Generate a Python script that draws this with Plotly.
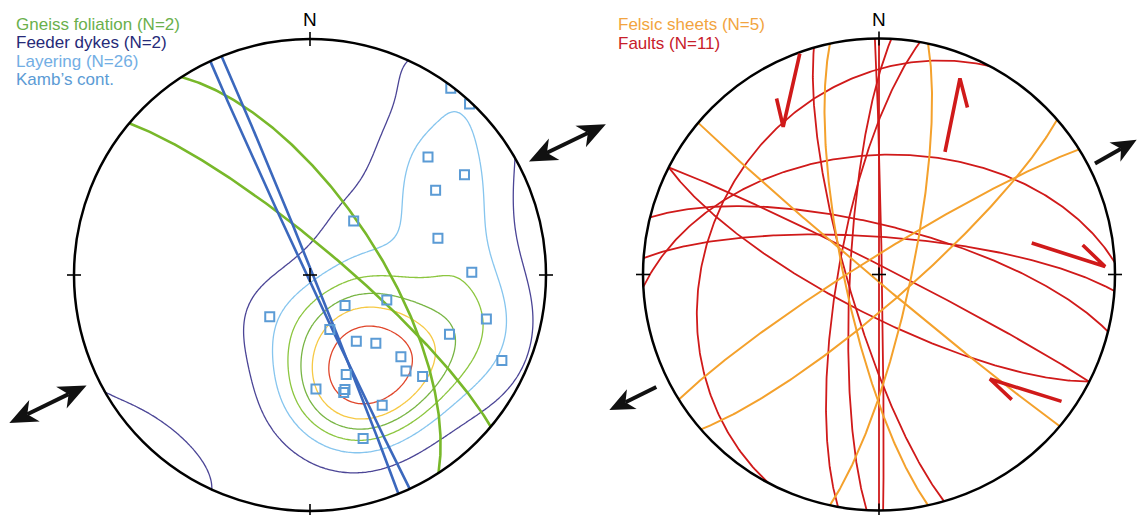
import numpy as np
import plotly.graph_objects as go

# ---------------- structural data ----------------
# Left net: gneiss foliation planes, feeder dykes, poles to layering
gneiss_strike = [327, 310]
gneiss_dip = [66, 80]

dyke_strike = [155, 338]
dyke_dip = [89, 89]

layering_pole_trend = [37, 43, 45, 57, 56, 39, 74, 89, 224, 131, 108, 104, 113,
                       160, 145, 136, 132, 114, 160, 135, 132, 177, 163, 164, 151, 162]
layering_pole_plunge = [1, 1, 30, 23, 36, 66, 43, 32, 70, 74, 62, 24, 36,
                        70, 62, 57, 47, 12, 53, 42, 36, 50, 48, 47, 37, 28]

# Kamb contour levels (sigma units) and their colours
kamb_sigma = 2.0
kamb_levels = [0.9, 2.4, 3.6, 4.8, 5.9, 7.4]
kamb_colors = ["#4b4596", "#86c5ee", "#8cc63f", "#78b544", "#f6c945", "#e0462b"]

# Right net: felsic sheets and faults
felsic_strike = [130, 168, 12, 49, 238]
felsic_dip = [88, 78, 79, 80, 84]

fault_strike = [0, 183, 190, 164, 208, 117, 297, 284, 274, 267, 359]
fault_dip = [90, 80, 76, 79, 28, 76, 87, 73, 77, 48, 89]

# ---------------- page geometry ----------------
W, H = 1137, 515
R = 236.0                      # net radius in pixels
LC = (310.0, 275.0)            # left net centre (px)
RC = (879.0, 274.5)            # right net centre (px)
PX = 1.0 / R                   # one pixel in net units

# ---------------- projection helpers (lower hemisphere, equal area) ----------------
def project(trend, plunge):
    t = np.radians(np.asarray(trend, float))
    p = np.radians(np.asarray(plunge, float))
    r = np.sqrt(2) * np.sin((np.pi / 2 - p) / 2)
    return r * np.sin(t), r * np.cos(t)


def great_circle(strike, dip, n=241):
    s, d = np.radians(strike), np.radians(dip)
    a = np.linspace(0, np.pi, n)
    sv = np.array([np.sin(s), np.cos(s), 0.0])
    dv = np.array([np.cos(s) * np.cos(d), -np.sin(s) * np.cos(d), -np.sin(d)])
    v = np.outer(np.cos(a), sv) + np.outer(np.sin(a), dv)
    plunge = np.degrees(np.arcsin(np.clip(-v[:, 2], -1, 1)))
    trend = np.degrees(np.arctan2(v[:, 0], v[:, 1]))
    return project(trend, plunge)


def unit_vectors(trend, plunge):
    t = np.radians(trend)
    p = np.radians(plunge)
    return np.stack([np.cos(p) * np.sin(t), np.cos(p) * np.cos(t), -np.sin(p)], axis=-1)


def kamb_density(gx, gy, trend, plunge, sigma=3.0):
    """Exponential Kamb density (in sigma units) on a grid of net coordinates."""
    X, Y = np.meshgrid(gx, gy)
    r = np.clip(np.hypot(X, Y), 0, np.sqrt(2))
    gp = 90 - 2 * np.degrees(np.arcsin(r / np.sqrt(2)))
    gt = np.degrees(np.arctan2(X, Y))
    g = unit_vectors(gt, gp)
    p = unit_vectors(np.asarray(trend, float), np.asarray(plunge, float))
    cosd = np.abs(g @ p.T)
    n = len(trend)
    f = 2 * (1 + n / sigma ** 2)
    units = np.sqrt(n * (f / 2 - 1) / f ** 2)
    dens = (np.exp(f * (cosd - 1)).sum(axis=-1) - 0.5) / units
    return np.clip(dens, 0, None)


fig = go.Figure()

# ---------------- left net ----------------
gx = np.linspace(-1.4, 1.4, 281)
gy = np.linspace(-1.4, 1.4, 281)
dens = kamb_density(gx, gy, layering_pole_trend, layering_pole_plunge, kamb_sigma)
for lv, col in zip(kamb_levels, kamb_colors):
    fig.add_trace(go.Contour(
        x=gx, y=gy, z=dens, xaxis="x", yaxis="y",
        autocontour=False,
        contours=dict(start=lv, end=lv, size=1, coloring="none", showlabels=False),
        line=dict(color=col, width=1.3, smoothing=1),
        showscale=False, hoverinfo="skip"))

for s, d in zip(gneiss_strike, gneiss_dip):
    x, y = great_circle(s, d)
    fig.add_trace(go.Scatter(x=x, y=y, mode="lines", xaxis="x", yaxis="y",
                             line=dict(color="#78b82a", width=2.6), hoverinfo="skip"))

for s, d in zip(dyke_strike, dyke_dip):
    x, y = great_circle(s, d)
    fig.add_trace(go.Scatter(x=x, y=y, mode="lines", xaxis="x", yaxis="y",
                             line=dict(color="#3b68bd", width=2.6), hoverinfo="skip"))

px_, py_ = project(layering_pole_trend, layering_pole_plunge)
fig.add_trace(go.Scatter(x=px_, y=py_, mode="markers", xaxis="x", yaxis="y",
                         marker=dict(symbol="square-open", size=9, color="#5b9bd5",
                                     line=dict(width=2, color="#5b9bd5")),
                         hoverinfo="skip"))

# ---------------- right net ----------------
for s, d in zip(fault_strike, fault_dip):
    x, y = great_circle(s, d)
    fig.add_trace(go.Scatter(x=x, y=y, mode="lines", xaxis="x2", yaxis="y2",
                             line=dict(color="#d01a1a", width=1.8), hoverinfo="skip"))

for s, d in zip(felsic_strike, felsic_dip):
    x, y = great_circle(s, d)
    fig.add_trace(go.Scatter(x=x, y=y, mode="lines", xaxis="x2", yaxis="y2",
                             line=dict(color="#f4a12c", width=2.0), hoverinfo="skip"))

# ---------------- shapes: masks, primitives, ticks, arrows ----------------
shapes = []


def mask(xref, yref):
    th = np.linspace(0, 2 * np.pi, 721)
    rr = 1.004
    p = "M-3,-3L3,-3L3,3L-3,3Z"
    p += "M" + "L".join(f"{rr*np.cos(t):.5f},{rr*np.sin(t):.5f}" for t in th) + "Z"
    return dict(type="path", path=p, xref=xref, yref=yref, fillcolor="white",
                fillrule="evenodd", line=dict(width=0), layer="above")


def seg_path(points):
    return "M" + "L".join(f"{x:.5f},{y:.5f}" for x, y in points)


def net_frame(xref, yref):
    out = [dict(type="circle", xref=xref, yref=yref, x0=-1, x1=1, y0=-1, y1=1,
                line=dict(color="black", width=2.5), layer="above")]
    t = 7 * PX
    ticks = [[(0, 1 - t), (0, 1 + t)], [(0, -1 - t), (0, -1 + t)],
             [(-1 - t, 0), (-1 + t, 0)], [(1 - t, 0), (1 + t, 0)],
             [(-t, 0), (t, 0)], [(0, -t), (0, t)]]
    for tk in ticks:
        out.append(dict(type="path", path=seg_path(tk), xref=xref, yref=yref,
                        line=dict(color="black", width=1.6), layer="above"))
    return out


def head(tip, az, length, width, notch):
    u = np.array([np.sin(np.radians(az)), np.cos(np.radians(az))])
    nrm = np.array([u[1], -u[0]])
    tip = np.asarray(tip)
    back = tip - length * u
    pts = [tip, back - width / 2 * nrm, tip - (length - notch) * u, back + width / 2 * nrm]
    return seg_path(pts) + "Z", tip - (length - notch) * u


def arrow(xref, yref, tail, tip, length, width, notch, double):
    tail, tip = np.asarray(tail), np.asarray(tip)
    az = np.degrees(np.arctan2(tip[0] - tail[0], tip[1] - tail[1]))
    out = []
    p1, a1 = head(tip, az, length, width, notch)
    out.append(dict(type="path", path=p1, xref=xref, yref=yref, fillcolor="#111111",
                    line=dict(width=0), layer="above"))
    a0 = tail
    if double:
        p0, a0 = head(tail, az + 180, length, width, notch)
        out.append(dict(type="path", path=p0, xref=xref, yref=yref, fillcolor="#111111",
                        line=dict(width=0), layer="above"))
    out.append(dict(type="path", path=seg_path([a0, a1]), xref=xref, yref=yref,
                    line=dict(color="#111111", width=4), layer="above"))
    return out


def polar(r, az):
    return (r * np.sin(np.radians(az)), r * np.cos(np.radians(az)))


def slip(xref, yref, tip, az, shaft, barb, side):
    tip = np.asarray(tip)
    u = np.array([np.sin(np.radians(az)), np.cos(np.radians(az))])
    tail = tip - shaft * u
    baz = np.radians(az + 180 + side * 26)
    bend = tip + barb * np.array([np.sin(baz), np.cos(baz)])
    return dict(type="path", path=seg_path([tail, tip, bend]), xref=xref, yref=yref,
                line=dict(color="#d01a1a", width=3.6), layer="above")


shapes.append(mask("x", "y"))
shapes.append(mask("x2", "y2"))
shapes += net_frame("x", "y")
shapes += net_frame("x2", "y2")

# bulk extension directions
shapes += arrow("x", "y", polar(1.045, 62.6), polar(1.407, 63.0), 28 * PX, 24 * PX, 8 * PX, True)
shapes += arrow("x", "y", polar(1.056, 243.7), polar(1.420, 243.8), 28 * PX, 24 * PX, 8 * PX, True)
shapes += arrow("x2", "y2", polar(1.029, 62.8), polar(1.232, 62.4), 25 * PX, 22 * PX, 7 * PX, False)
shapes += arrow("x2", "y2", polar(1.057, 243.2), polar(1.279, 243.3), 25 * PX, 22 * PX, 7 * PX, False)

# fault slip sense
shapes.append(slip("x2", "y2", (-0.406, 0.626), 192.8, 75 * PX, 29 * PX, -1))
shapes.append(slip("x2", "y2", (0.343, 0.831), 11.5, 75 * PX, 30 * PX, -1))
shapes.append(slip("x2", "y2", (0.958, 0.034), 107.7, 77 * PX, 31 * PX, 1))
shapes.append(slip("x2", "y2", (0.470, -0.443), 287.3, 75 * PX, 30 * PX, 1))

# ---------------- text ----------------
FONT = "Liberation Sans, Arial, sans-serif"
ann = []


def label(text, x, y, color, size=17):
    ann.append(dict(text=text, x=x / W, y=1 - y / H, xref="paper", yref="paper",
                    xanchor="left", yanchor="middle", showarrow=False,
                    font=dict(family=FONT, size=size, color=color)))


label("Gneiss foliation (N=2)", 14, 24.5, "#6ab04c")
label("Feeder dykes (N=2)", 14, 42.5, "#262a78")
label("Layering (N=26)", 14, 61.5, "#72aee4")
label("Kamb\u2019s cont.", 14, 80, "#5b9bd5")
label("Felsic sheets (N=5)", 616, 25, "#f2a440")
label("Faults (N=11)", 616, 43.5, "#c8202a")

for cx in (LC[0], RC[0]):
    ann.append(dict(text="N", x=cx / W, y=1 - 20 / H, xref="paper", yref="paper",
                    xanchor="center", yanchor="middle", showarrow=False,
                    font=dict(family=FONT, size=19, color="black")))

ax_common = dict(visible=False, showgrid=False, zeroline=False, fixedrange=True)
fig.update_layout(
    width=W, height=H, margin=dict(l=0, r=0, t=0, b=0),
    paper_bgcolor="white", plot_bgcolor="rgba(0,0,0,0)", showlegend=False,
    xaxis=dict(domain=[0, 620 / W], range=[-LC[0] / R, (620 - LC[0]) / R], anchor="y", **ax_common),
    yaxis=dict(domain=[0, 1], range=[-(H - LC[1]) / R, LC[1] / R], anchor="x", **ax_common),
    xaxis2=dict(domain=[600 / W, 1], range=[(600 - RC[0]) / R, (W - RC[0]) / R], anchor="y2", **ax_common),
    yaxis2=dict(domain=[0, 1], range=[-(H - RC[1]) / R, RC[1] / R], anchor="x2", **ax_common),
    shapes=shapes, annotations=ann,
)

fig.write_html("out.html")
